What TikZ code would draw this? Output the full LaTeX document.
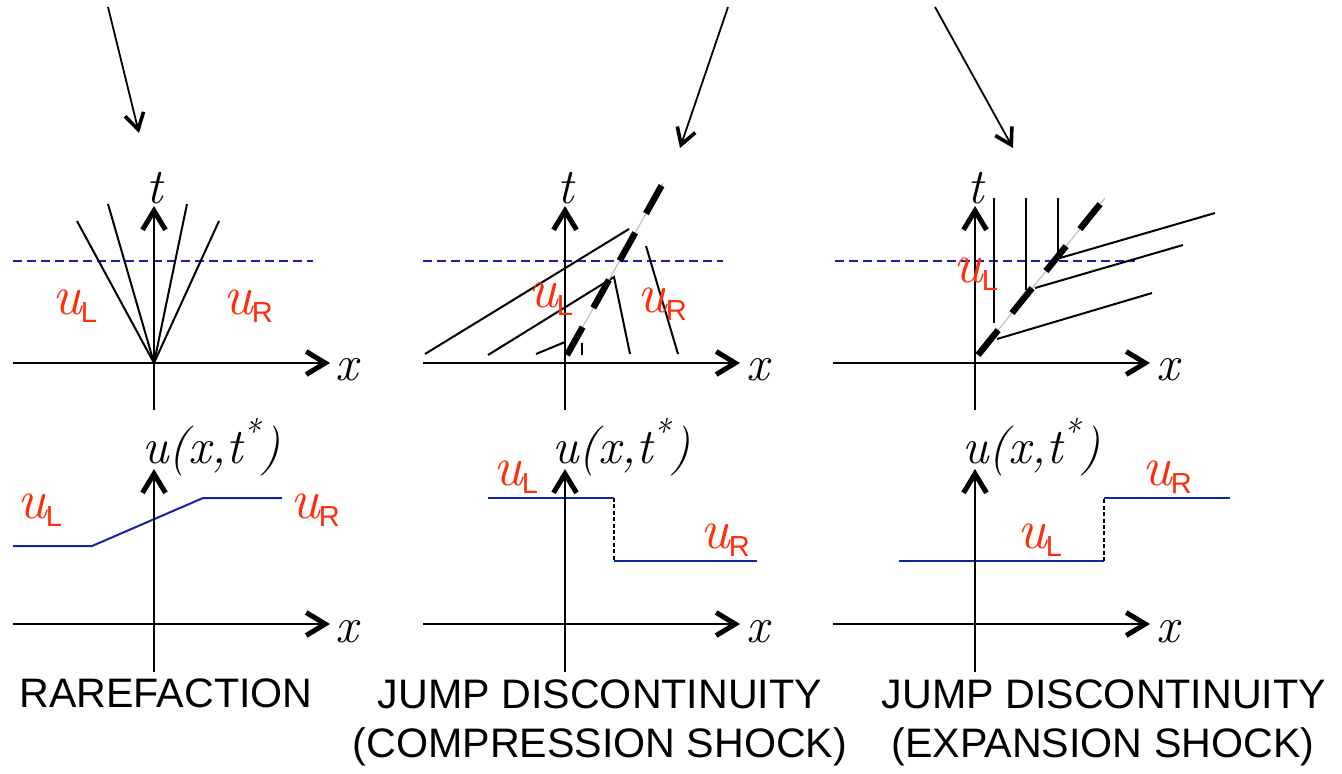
\documentclass[tikz,border=0pt]{standalone}
\usepackage{fontspec}
\setsansfont{Liberation Sans}
\usetikzlibrary{arrows.meta}
\definecolor{ured}{RGB}{255,45,10}
\definecolor{dblue}{RGB}{20,35,165}
\newcommand{\UL}{{\itshape u}\kern-0.5pt\raisebox{-4pt}{\sffamily\fontsize{14.5}{14.5}\selectfont L}}
\newcommand{\UR}{{\itshape u}\kern-0.5pt\raisebox{-4pt}{\sffamily\fontsize{14.5}{14.5}\selectfont R}}
\begin{document}
\begin{tikzpicture}[x=0.5pt,y=-0.5pt,
  axis/.style={line width=1pt,-{Straight Barb[length=9.5pt,width=11.5pt,line width=2.5pt]}},
  chr/.style={line width=1pt},
  tline/.style={dblue,line width=1pt,dash pattern=on 4.5pt off 2.5pt},
  shockbg/.style={black!25,line width=0.6pt},
  shock/.style={line width=3.2pt,dash pattern=on 16pt off 11pt},
  sol/.style={dblue,line width=1pt},
  jump/.style={line width=0.8pt,dash pattern=on 2pt off 1.2pt},
  ptr/.style={line width=0.9pt,-{Straight Barb[length=8pt,width=9.5pt,line width=1.8pt]}},
  mlab/.style={inner sep=0pt,font=\itshape\fontsize{25}{29}\selectfont},
  ulab/.style={inner sep=0pt,text=ured,anchor=base west,font=\fontsize{28}{32}\selectfont},
  captxt/.style={inner sep=0pt,anchor=base,font=\sffamily\fontsize{20.6}{24.5}\selectfont}]
\useasboundingbox (0,0) rectangle (1342,773);

% pointer arrows
\coordinate (a1s) at (108,7);  \coordinate (a1e) at (139,133);
\coordinate (a2s) at (728,7);  \coordinate (a2e) at (680,148);
\coordinate (a3s) at (935,7);  \coordinate (a3e) at (1013,148);
\draw[ptr] (a1s) -- (a1e);
\draw[ptr] (a2s) -- (a2e);
\draw[ptr] (a3s) -- (a3e);

% ---------- panel 1 top: rarefaction fan ----------
\coordinate (o1) at (154,363);
\draw[tline] (13,261) -- (313,261);
\draw[chr] (o1) -- (77,221);
\draw[chr] (o1) -- (108,204);
\draw[chr] (o1) -- (187,204);
\draw[chr] (o1) -- (219,221);
\draw[axis] (13,363) -- (330,363);
\draw[axis] (154,410) -- (154,206);
\node[mlab,anchor=base] (t1) at (155,203) {t};
\node[mlab,anchor=base west] (x1) at (335,380) {x};
\node[ulab] (ul1) at (52,314) {\UL};
\node[ulab] (ur1) at (223,314) {\UR};

% ---------- panel 2 top: compression shock ----------
\draw[tline] (423,261) -- (723,261);
\draw[chr] (425,354) -- (629,229);
\draw[chr] (488,355) -- (614,277) -- (630,354);
\draw[chr] (536,354) -- (565,342);
\draw[chr] (582,343) -- (582,355);
\draw[chr] (646,246) -- (678,354);
\coordinate (s2a) at (567,355); \coordinate (s2b) at (663,183);
\draw[shockbg] (s2a) -- (s2b);
\draw[shock] (s2a) -- (s2b);
\draw[axis] (423,363) -- (740,363);
\draw[axis] (565,410) -- (565,206);
\node[mlab,anchor=base] (t2) at (566,203) {t};
\node[mlab,anchor=base west] (x2) at (746,380) {x};
\node[ulab] (ul2) at (528,307) {\UL};
\node[ulab] (ur2) at (637,312) {\UR};

% ---------- panel 3 top: expansion shock ----------
\draw[tline] (835,261) -- (1135,261);
\draw[chr] (994,198) -- (994,323);
\draw[chr] (1026,198) -- (1026,290);
\draw[chr] (1058,198) -- (1058,253);
\draw[chr] (997,339) -- (1152,293);
\draw[chr] (1035,288) -- (1183,245);
\draw[chr] (1060,258) -- (1215,213);
\coordinate (s3a) at (978,355); \coordinate (s3b) at (1105,198);
\draw[shockbg] (s3a) -- (s3b);
\draw[shock] (s3a) -- (s3b);
\draw[axis] (833,363) -- (1150,363);
\draw[axis] (975,410) -- (975,206);
\node[mlab,anchor=base] (t3) at (976,203) {t};
\node[mlab,anchor=base west] (x3) at (1156,380) {x};
\node[ulab] (ul3) at (953,282) {\UL};

% ---------- bottom panel 1 ----------
\draw[sol] (13,546) -- (92,546) -- (203,498) -- (282,498);
\draw[axis] (13,624) -- (330,624);
\draw[axis] (154,672) -- (154,469);
\node[mlab,anchor=base west] (u1) at (142,463) {u(x,t\textsuperscript{*})};
\node[mlab,anchor=base west] (xb1) at (335,642) {x};
\node[ulab] (bl1) at (17,518) {\UL};
\node[ulab] (br1) at (290,518) {\UR};
\node[captxt] (c1) at (166,707) {RAREFACTION};

% ---------- bottom panel 2 ----------
\draw[sol] (488,498) -- (614,498);
\draw[jump] (614,498) -- (614,561);
\draw[sol] (614,561) -- (757,561);
\draw[axis] (423,624) -- (740,624);
\draw[axis] (565,672) -- (565,469);
\node[mlab,anchor=base west] (u2) at (552,463) {u(x,t\textsuperscript{*})};
\node[mlab,anchor=base west] (xb2) at (746,642) {x};
\node[ulab] (bl2) at (493,485) {\UL};
\node[ulab] (br2) at (700,548) {\UR};
\node[captxt] (c2a) at (600,708) {JUMP DISCONTINUITY};
\node[captxt] (c2b) at (600,757) {(COMPRESSION SHOCK)};

% ---------- bottom panel 3 ----------
\draw[sol] (899,561) -- (1104,561);
\draw[jump] (1104,561) -- (1104,498);
\draw[sol] (1104,498) -- (1230,498);
\draw[axis] (833,624) -- (1150,624);
\draw[axis] (975,672) -- (975,469);
\node[mlab,anchor=base west] (u3) at (962,463) {u(x,t\textsuperscript{*})};
\node[mlab,anchor=base west] (xb3) at (1156,642) {x};
\node[ulab] (bl3) at (1017,548) {\UL};
\node[ulab] (br3) at (1142,485) {\UR};
\node[captxt] (c3a) at (1104,708) {JUMP DISCONTINUITY};
\node[captxt] (c3b) at (1103,757) {(EXPANSION SHOCK)};
\end{tikzpicture}
\end{document}
